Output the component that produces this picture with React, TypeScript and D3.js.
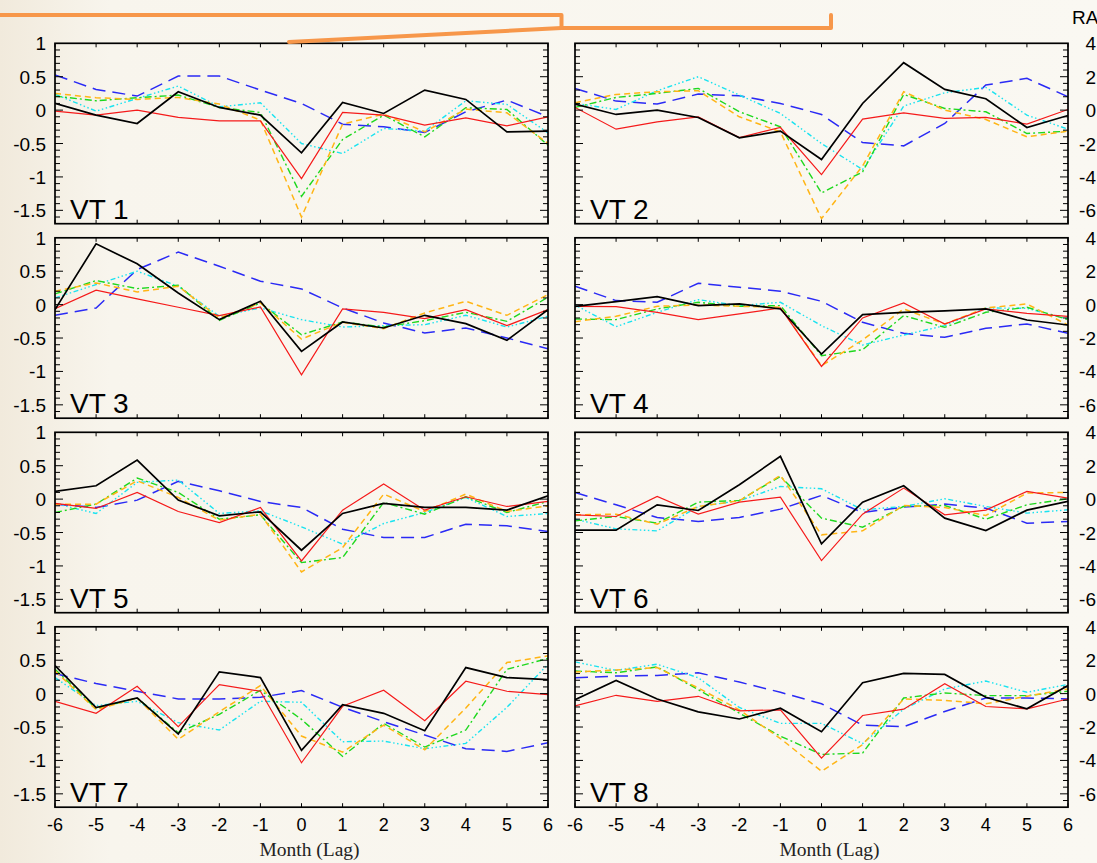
import React from "react";
import * as d3 from "d3";

// ---------- data ----------
const lags = [-6, -5, -4, -3, -2, -1, 0, 1, 2, 3, 4, 5, 6];
const leftTickValues = [1, 0.5, 0, -0.5, -1, -1.5];
const leftTickLabels = ["1", "0.5", "0", "-0.5", "-1", "-1.5"];
const rightTickValues = [4, 2, 0, -2, -4, -6];
const rightTickLabels = ["4", "2", "0", "-2", "-4", "-6"];
const panelNames = ["VT 1", "VT 2", "VT 3", "VT 4", "VT 5", "VT 6", "VT 7", "VT 8"];
const xTitle = "Month (Lag)";
const rightTitle = "RA";

// VT 1 (left axis units)
const vt1Black = [0.1, -0.075, -0.2, 0.275, 0.04, -0.075, -0.64, 0.115, -0.05, 0.3, 0.16, -0.325, -0.315];
const vt1Red = [-0.015, -0.075, 0, -0.11, -0.16, -0.16, -1.025, -0.035, -0.075, -0.225, -0.115, -0.235, -0.1];
const vt1Blue = [0.525, 0.31, 0.21, 0.51, 0.51, 0.3, 0.1, -0.21, -0.25, -0.335, -0.025, 0.15, -0.1];
const vt1Cyan = [0.24, -0.015, 0.175, 0.36, 0.05, 0.11, -0.5, -0.65, -0.275, -0.315, 0.14, 0.085, -0.34];
const vt1Green = [0.21, 0.14, 0.185, 0.225, 0.04, -0.035, -1.29, -0.44, -0.075, -0.4, 0.035, 0.01, -0.525];
const vt1Orange = [0.25, 0.185, 0.16, 0.19, 0.09, -0.15, -1.6, -0.21, -0.06, -0.325, 0.015, -0.04, -0.5];

// VT 2 (RA units)
const vt2Black = [0.36, -0.26, 0, -0.44, -1.66, -1.26, -2.96, 0.4, 2.84, 1.24, 0.68, -1.04, -0.32];
const vt2Red = [0.16, -1.14, -0.7, -0.4, -1.64, -1.04, -3.86, -0.54, -0.16, -0.5, -0.44, -0.84, 0.04];
const vt2Blue = [1.3, 0.54, 0.36, 0.96, 0.86, 0.4, -0.26, -1.94, -2.14, -0.8, 1.5, 1.9, 0.8];
const vt2Cyan = [0.4, 0.04, 1.16, 2.0, 0.9, -0.2, -2.0, -3.56, 0.24, 1.04, 1.36, -0.3, -1.14];
const vt2Green = [0.16, 0.76, 1.0, 1.3, -0.1, -1.0, -4.96, -3.7, 0.94, 0.1, -0.1, -1.4, -1.26];
const vt2Orange = [0.44, 0.94, 1.1, 1.16, -0.4, -1.3, -6.5, -3.34, 1.1, 0, -0.56, -1.6, -1.26];

// VT 3
const vt3Black = [-0.075, 0.91, 0.61, 0.175, -0.225, 0.05, -0.7, -0.26, -0.35, -0.16, -0.285, -0.535, -0.075];
const vt3Red = [-0.06, 0.215, 0.085, -0.04, -0.165, -0.035, -1.05, -0.065, -0.115, -0.21, -0.075, -0.315, -0.075];
const vt3Blue = [-0.16, -0.05, 0.525, 0.785, 0.575, 0.35, 0.235, -0.05, -0.275, -0.425, -0.35, -0.5, -0.66];
const vt3Cyan = [0.1, 0.3, 0.5, 0.275, -0.175, -0.05, -0.225, -0.335, -0.315, -0.3, -0.16, -0.335, -0.175];
const vt3Green = [0.16, 0.36, 0.24, 0.29, -0.235, 0.025, -0.45, -0.26, -0.335, -0.24, -0.115, -0.25, 0.11];
const vt3Orange = [0.2, 0.325, 0.19, 0.275, -0.2, 0.025, -0.515, -0.265, -0.36, -0.125, 0.05, -0.16, 0.15];

// VT 4 (RA units)
const vt4Black = [-0.1, 0.18, 0.48, -0.06, 0.04, -0.26, -2.96, -0.6, -0.46, -0.38, -0.26, -0.92, -1.22];
const vt4Red = [-0.1, -0.12, -0.46, -0.9, -0.56, -0.2, -3.7, -0.8, 0.1, -1.16, -0.26, -0.52, -0.7];
const vt4Blue = [1.1, 0.24, 0.14, 1.28, 1.04, 0.8, 0.2, -1.06, -1.72, -1.96, -1.42, -1.16, -1.72];
const vt4Cyan = [-0.02, -1.32, -0.46, 0.3, -0.06, 0.14, -1.26, -2.42, -1.82, -1.26, -0.2, -0.22, -0.86];
const vt4Green = [-0.86, -0.9, -0.26, 0.14, -0.1, -0.06, -3.06, -2.7, -0.66, -1.36, -0.46, -0.16, -0.9];
const vt4Orange = [-1.02, -0.7, -0.1, -0.02, -0.1, -0.16, -3.66, -2.12, -0.26, -1.16, -0.2, 0.04, -1.22];

// VT 5
const vt5Black = [0.115, 0.2, 0.585, -0.015, -0.25, -0.19, -0.765, -0.215, -0.065, -0.125, -0.125, -0.165, 0.05];
const vt5Red = [-0.065, -0.14, 0.1, -0.185, -0.35, -0.125, -0.925, -0.165, 0.225, -0.165, 0.035, -0.11, -0.035];
const vt5Blue = [-0.075, -0.125, -0.015, 0.265, 0.125, -0.035, -0.125, -0.45, -0.575, -0.575, -0.375, -0.4, -0.485];
const vt5Cyan = [-0.065, -0.215, 0.25, 0.285, -0.215, -0.175, -0.415, -0.675, -0.365, -0.2, 0.025, -0.26, -0.215];
const vt5Green = [-0.2, -0.075, 0.315, 0.1, -0.3, -0.235, -0.95, -0.875, -0.05, -0.225, 0.035, -0.2, -0.035];
const vt5Orange = [-0.075, -0.075, 0.275, 0.025, -0.315, -0.225, -1.09, -0.725, 0.075, -0.185, 0.075, -0.185, -0.1];

// VT 6 (RA units)
const vt6Black = [-1.86, -1.86, -0.34, -0.68, 0.86, 2.56, -2.68, -0.18, 0.8, -1.14, -1.88, -0.66, -0.14];
const vt6Red = [-0.94, -1.04, 0.16, -0.9, -0.18, 0.12, -3.68, -0.9, 0.66, -0.94, -0.66, 0.46, 0.06];
const vt6Blue = [0.4, -0.34, -1.1, -1.34, -1.1, -0.6, 0.22, -0.8, -0.48, -0.3, -0.54, -1.44, -1.34];
const vt6Cyan = [-1.2, -1.78, -1.9, -0.44, -0.1, 0.76, 0.62, -0.64, -0.44, 0.02, -0.44, -0.84, -0.64];
const vt6Green = [-1.3, -1.04, -1.44, -0.18, -0.08, 1.36, -1.14, -1.68, -0.44, -0.38, -1.2, -0.34, 0.02];
const vt6Orange = [-0.94, -0.9, -1.5, -0.44, -0.1, 1.42, -2.14, -1.9, -0.38, -0.5, -0.98, 0.36, 0.4];

// VT 7
const vt7Black = [0.42, -0.21, -0.065, -0.605, 0.325, 0.24, -0.85, -0.165, -0.295, -0.555, 0.39, 0.24, 0.21];
const vt7Red = [-0.115, -0.295, 0.11, -0.495, 0.135, 0.035, -1.035, -0.19, 0.05, -0.405, 0.185, 0.035, -0.015];
const vt7Blue = [0.3, 0.15, 0.035, -0.08, -0.08, -0.055, 0.045, -0.205, -0.42, -0.62, -0.825, -0.865, -0.735];
const vt7Cyan = [0.24, -0.18, -0.115, -0.435, -0.545, -0.115, -0.13, -0.72, -0.71, -0.825, -0.745, -0.205, 0.44];
const vt7Green = [0.365, -0.225, -0.065, -0.585, -0.31, 0.05, -0.385, -0.94, -0.445, -0.8, -0.545, 0.365, 0.525];
const vt7Orange = [0.34, -0.24, -0.065, -0.685, -0.27, 0.12, -0.635, -0.875, -0.47, -0.84, -0.215, 0.465, 0.565];

// VT 8 (RA units)
const vt8Black = [-0.36, 0.79, -0.32, -1.09, -1.52, -0.87, -2.28, 0.65, 1.21, 1.15, -0.22, -0.91, 0.48];
const vt8Red = [-0.73, -0.1, -0.46, -0.16, -1.03, -0.97, -3.86, -1.31, -0.93, 0.59, -0.77, -0.91, -0.32];
const vt8Blue = [0.95, 1.05, 1.09, 1.25, 0.69, 0.08, -0.61, -1.88, -1.98, -1.07, -0.26, -0.26, -0.32];
const vt8Cyan = [1.9, 1.39, 1.76, 0.95, -0.83, -1.78, -1.78, -2.99, -0.93, 0.28, 0.75, 0.08, 0.55];
const vt8Green = [1.35, 1.25, 1.6, 0.24, -1.17, -2.55, -3.64, -3.56, -0.26, 0.04, -0.12, -0.12, 0.14];
const vt8Orange = [1.29, 1.41, 1.56, 0.34, -0.97, -2.69, -4.65, -3.05, -0.32, -0.4, -0.61, -0.16, 0.28];

const panelSeries = [
  [vt1Blue, vt1Cyan, vt1Green, vt1Orange, vt1Red, vt1Black],
  [vt2Blue, vt2Cyan, vt2Green, vt2Orange, vt2Red, vt2Black],
  [vt3Blue, vt3Cyan, vt3Green, vt3Orange, vt3Red, vt3Black],
  [vt4Blue, vt4Cyan, vt4Green, vt4Orange, vt4Red, vt4Black],
  [vt5Blue, vt5Cyan, vt5Green, vt5Orange, vt5Red, vt5Black],
  [vt6Blue, vt6Cyan, vt6Green, vt6Orange, vt6Red, vt6Black],
  [vt7Blue, vt7Cyan, vt7Green, vt7Orange, vt7Red, vt7Black],
  [vt8Blue, vt8Cyan, vt8Green, vt8Orange, vt8Red, vt8Black],
];

// ---------- styles ----------
const seriesStyles = [
  { color: "#2a2af5", width: 1.5, dash: "13,7" },
  { color: "#19e3f0", width: 1.4, dash: "5,2.5,1.5,2.5,1.5,2.5,1.5,2.5" },
  { color: "#1ed81e", width: 1.4, dash: "7,3,2,3" },
  { color: "#ffb515", width: 1.5, dash: "6,4" },
  { color: "#f51a1a", width: 1.2, dash: null },
  { color: "#000000", width: 1.7, dash: null },
];

const W = 1097;
const H = 863;
const colX = [55, 575];
const panelW = 493;
const rowTop = [43.3, 237.8, 432.3, 626.8];
const panelH = 180.4;
const leftDomain: [number, number] = [-1.7, 1];
const rightDomain: [number, number] = [-6.8, 4];
const sans = "'Liberation Sans', Arial, Helvetica, sans-serif";
const serif = "'Liberation Serif', 'Times New Roman', Times, serif";
const orange = "#f7974a";

function Panel({ idx }: { idx: number }) {
  const col = idx % 2;
  const row = Math.floor(idx / 2);
  const x0 = colX[col];
  const top = rowTop[row];
  const bottom = top + panelH;
  const x = d3.scaleLinear().domain([-6, 6]).range([x0, x0 + panelW]);
  const yL = d3.scaleLinear().domain(leftDomain).range([bottom, top]);
  const yR = d3.scaleLinear().domain(rightDomain).range([bottom, top]);
  const y = col === 0 ? yL : yR;
  const line = d3
    .line<number>()
    .x((_, i) => x(lags[i]))
    .y((d) => y(d));
  const minor = d3.range(-16, 10).map((k) => k / 10);
  const clipId = `clip${idx}`;
  return (
    <g>
      <defs>
        <clipPath id={clipId}>
          <rect x={x0} y={top} width={panelW} height={panelH} />
        </clipPath>
      </defs>
      <g clipPath={`url(#${clipId})`}>
        {panelSeries[idx].map((s, si) => (
          <path
            key={si}
            d={line(s) || ""}
            fill="none"
            stroke={seriesStyles[si].color}
            strokeWidth={seriesStyles[si].width}
            strokeDasharray={seriesStyles[si].dash || undefined}
            strokeLinejoin="miter"
          />
        ))}
      </g>
      {minor.map((v, i) => {
        const major = Math.abs(Math.round(v * 10) % 5) === 0;
        const len = major ? 8 : 5;
        const yy = yL(v);
        return (
          <g key={`yt${i}`} stroke="#000" strokeWidth={1}>
            <line x1={x0} x2={x0 + len} y1={yy} y2={yy} />
            <line x1={x0 + panelW} x2={x0 + panelW - len} y1={yy} y2={yy} />
          </g>
        );
      })}
      {lags.map((l) => (
        <g key={`xt${l}`} stroke="#000" strokeWidth={1}>
          <line x1={x(l)} x2={x(l)} y1={bottom} y2={bottom - 4} />
          <line x1={x(l)} x2={x(l)} y1={top} y2={top + 4} />
        </g>
      ))}
      <rect x={x0} y={top} width={panelW} height={panelH} fill="none" stroke="#000" strokeWidth={1.7} />
      <text x={x0 + 15} y={bottom - 5} fontFamily={sans} fontSize={28} fill="#000">
        {panelNames[idx]}
      </text>
      {col === 0 &&
        leftTickValues.map((v, i) => (
          <text key={`yl${i}`} x={46} y={yL(v) + 7} textAnchor="end" fontFamily={sans} fontSize={19} fill="#000">
            {leftTickLabels[i]}
          </text>
        ))}
      {col === 1 &&
        rightTickValues.map((v, i) => (
          <text key={`yr${i}`} x={1096} y={yR(v) + 7} textAnchor="end" fontFamily={sans} fontSize={19} fill="#000">
            {rightTickLabels[i]}
          </text>
        ))}
      {row === 3 &&
        lags.map((l) => (
          <text key={`xl${l}`} x={x(l)} y={bottom + 24} textAnchor="middle" fontFamily={sans} fontSize={18} fill="#000">
            {String(l)}
          </text>
        ))}
      {row === 3 && (
        <text x={x0 + panelW / 2 + 8} y={bottom + 49} textAnchor="middle" fontFamily={serif} fontSize={19.5} fill="#222">
          {xTitle}
        </text>
      )}
    </g>
  );
}

export default function App() {
  return (
    <svg
      width={W}
      height={H}
      viewBox={`0 0 ${W} ${H}`}
      style={{ position: "absolute", left: 0, top: 0, display: "block" }}
    >
      <defs>
        <linearGradient id="bgGrad" x1="0" x2="1" y1="0" y2="0">
          <stop offset="0" stopColor="#f1eadc" />
          <stop offset="0.1" stopColor="#f8f5ed" />
          <stop offset="1" stopColor="#faf8f2" />
        </linearGradient>
      </defs>
      <rect x={0} y={0} width={W} height={H} fill="url(#bgGrad)" />
      {panelNames.map((_, i) => (
        <Panel key={i} idx={i} />
      ))}
      <text x={1072} y={24} fontFamily={sans} fontSize={19} fill="#000">
        {rightTitle}
      </text>
      <g stroke={orange} strokeWidth={4} fill="none" strokeLinecap="round" strokeLinejoin="round">
        <path d="M -2 15 L 561.5 15 L 561.5 28 L 831 28 L 831 15" />
        <path d="M 289 42 L 561.5 28" />
      </g>
    </svg>
  );
}
